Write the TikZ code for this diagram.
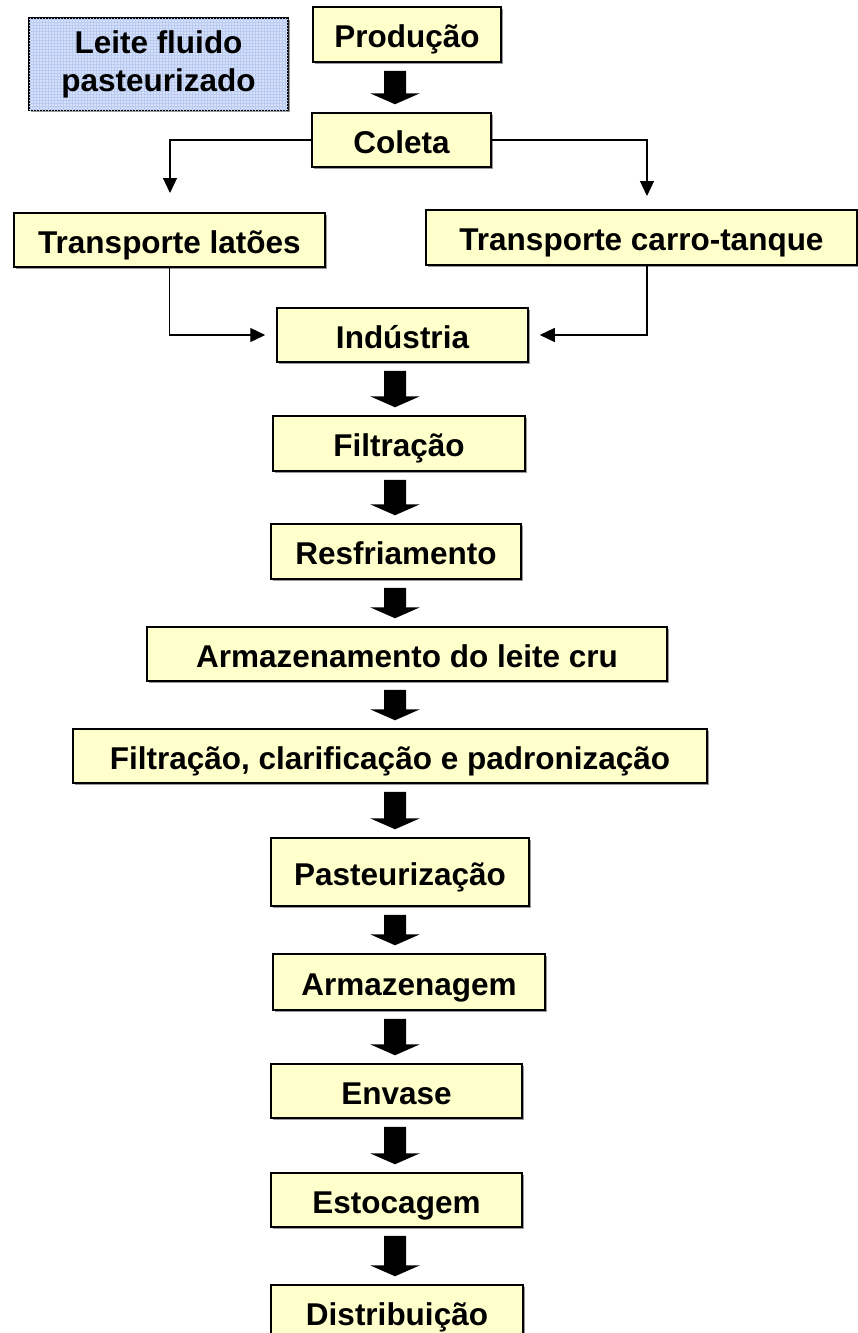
\documentclass[tikz,border=0pt]{standalone}
\usepackage{fontspec}
\setmainfont{Liberation Sans}
\usetikzlibrary{arrows.meta,calc,shadows,patterns}
\definecolor{boxfill}{HTML}{FFFFCC}
\definecolor{leitefill}{HTML}{D6E1F8}
\definecolor{leitegrid}{HTML}{B9CBF2}
\newcommand\blkarr[2]{\path[blk] ($(#1.south -| col)+(0,8)$) to ($(#2.north -| col)+(0,-8)$);}
\begin{document}
\begin{tikzpicture}[x=1pt,y=-1pt,
  boxbase/.style={draw=black, line width=1.5pt, fill=boxfill, inner sep=0pt,
    font=\bfseries\fontsize{31.5pt}{38pt}\selectfont, align=center,
    drop shadow={shadow xshift=2pt,shadow yshift=-2pt,fill=black!40,opacity=1}},
  box/.style={boxbase, text height=30pt, text depth=4pt},
  conn/.style={line width=1.2pt, -{Triangle[width=14pt,length=15pt]}},
  blk/.style={fill=black, to path={let \p1=(\tikztostart), \p2=(\tikztotarget) in
    (\x1-11pt,\y1) -- (\x1+11pt,\y1) -- (\x1+11pt,\y2+11pt) -- (\x1+25pt,\y2+11pt)
    -- (\x1,\y2) -- (\x1-25pt,\y2+11pt) -- (\x1-11pt,\y2+11pt) -- cycle}}]
\useasboundingbox (0,0) rectangle (858,1333);
\fill[white] (0,0) rectangle (858,1333);
\coordinate (col) at (395,0);

\node[boxbase, fill=leitefill, postaction={pattern=grid, pattern color=leitegrid},
  minimum width=259pt, minimum height=92pt] (leite) at (158.5,64) {Leite fluido\\pasteurizado};
\node[box, minimum width=188pt, minimum height=55pt] (prod) at (407,34.5) {Produção};
\node[box, minimum width=179pt, minimum height=54pt] (coleta) at (401.5,140) {Coleta};
\node[box, minimum width=311pt, minimum height=54pt] (latoes) at (169.5,240) {Transporte latões};
\node[box, minimum width=431pt, minimum height=55pt] (carro) at (641.5,237.5) {Transporte carro-tanque};
\node[box, minimum width=251pt, minimum height=54pt] (ind) at (402.5,335) {Indústria};
\node[box, minimum width=252pt, minimum height=55pt] (filt) at (399,443.5) {Filtração};
\node[box, minimum width=250pt, minimum height=55pt] (resf) at (396,551.5) {Resfriamento};
\node[box, minimum width=520pt, minimum height=54pt] (armaz) at (407,654) {Armazenamento do leite cru};
\node[box, minimum width=634pt, minimum height=54pt] (filtclar) at (390,756) {Filtração, clarificação e padronização};
\node[box, minimum width=258pt, minimum height=68pt] (past) at (400,872) {Pasteurização};
\node[box, minimum width=272pt, minimum height=56pt] (armzg) at (409,982) {Armazenagem};
\node[box, minimum width=251pt, minimum height=54pt] (envase) at (396.5,1091) {Envase};
\node[box, minimum width=251pt, minimum height=54pt] (estoc) at (396.5,1200) {Estocagem};
\node[box, minimum width=252pt, minimum height=54pt] (distr) at (397,1312) {Distribuição};

\coordinate (lc) at (170,193);
\coordinate (rc) at (647,196);
\coordinate (cr) at (647,265);
\draw[conn] (coleta.west) -| (lc);
\draw[conn] (coleta.east) -| (rc);
\draw[conn, shorten >=11pt] (latoes.south) |- (ind.west);
\draw[conn, shorten >=11pt] (cr) |- (ind.east);

\blkarr{prod}{coleta}
\blkarr{ind}{filt}
\blkarr{filt}{resf}
\blkarr{resf}{armaz}
\blkarr{armaz}{filtclar}
\blkarr{filtclar}{past}
\blkarr{past}{armzg}
\blkarr{armzg}{envase}
\blkarr{envase}{estoc}
\blkarr{estoc}{distr}
\end{tikzpicture}
\end{document}
